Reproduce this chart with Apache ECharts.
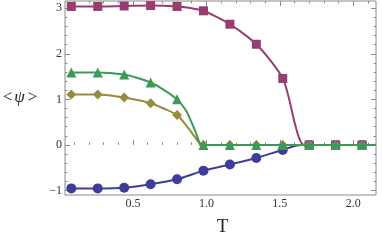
<!DOCTYPE html>
<html><head><meta charset="utf-8">
<script src="https://cdn.jsdelivr.net/npm/echarts@6/dist/echarts.min.js"></script>
<style>html,body{margin:0;padding:0;background:#fff;}#c{width:382px;height:241px;}</style>
</head><body><div id="c"></div>
<script>
// ---- data ----
const T = [0.08, 0.26, 0.44, 0.62, 0.80, 0.98, 1.16, 1.34, 1.52, 1.70, 1.88, 2.06];
const blueVals    = [-0.955, -0.955, -0.94, -0.865, -0.755, -0.565, -0.43, -0.286, -0.11, 0, 0, 0];
const magentaVals = [3.04, 3.04, 3.05, 3.06, 3.04, 2.945, 2.65, 2.21, 1.46, 0, 0, 0];
const oliveVals   = [1.105, 1.105, 1.04, 0.915, 0.655, 0, 0, 0, 0, 0, 0, 0];
const greenVals   = [1.59, 1.59, 1.545, 1.37, 1.0, 0, 0, 0, 0, 0, 0, 0];
// extra points read on the smooth curves between the markers
const blueCurveT = [1.645];
const blueCurveV = [0];
const magentaCurveT = [0.89, 1.07, 1.25, 1.43, 1.56, 1.6, 1.635, 1.665];
const magentaCurveV = [3.005, 2.81, 2.45, 1.88, 1.05, 0.5, 0.12, 0];
const oliveCurveT = [0.53, 0.71, 0.86, 0.92, 0.97];
const oliveCurveV = [0.985, 0.80, 0.44, 0.18, 0];
const greenCurveT = [0.53, 0.71, 0.86, 0.92, 0.967];
const greenCurveV = [1.47, 1.21, 0.76, 0.34, 0];
const curveEndT = 2.155;
const xTickLabels = ['0.5', '1.0', '1.5', '2.0'];
const yTickLabels = ['−1', '0', '1', '2', '3'];

// ---- layout ----
const W = 382, H = 241;
const XMIN = 0.037, XMAX = 2.155, YMIN = -1.1, YMAX = 3.16;
const GL = 65, GT = 1, GR = 6, GB = 46;
const plotW = W - GL - GR, plotH = H - GT - GB;
const kx = plotW / (XMAX - XMIN), ky = plotH / (YMAX - YMIN);
const FRAME = '#8a8a8a', LABEL = '#333';
const FONT = '"Liberation Serif", "DejaVu Serif", serif';

function xGrid(a, b) { return { left: GL + (a - XMIN) * kx, right: W - (GL + (b - XMIN) * kx), top: GT, bottom: GB }; }
function yGrid(c, d) { return { left: GL, right: GR, top: GT + (YMAX - d) * ky, bottom: H - (GT + (YMAX - c) * ky) }; }

function pairs(xs, ys) { return xs.map((x, i) => [x, ys[i]]); }
function curve(vals, ct, cv) {
  const pts = pairs(T, vals).concat(pairs(ct, cv));
  pts.push([curveEndT, 0]);
  pts.sort((p, q) => p[0] - q[0]);
  return pts;
}

const series = [
  { name: 'blue', color: '#3f3d99', vals: blueVals, ct: blueCurveT, cv: blueCurveV, sym: 'circle', size: 10 },
  { name: 'magenta', color: '#993d71', vals: magentaVals, ct: magentaCurveT, cv: magentaCurveV, sym: 'rect', size: 9 },
  { name: 'olive', color: '#998b3d', vals: oliveVals, ct: oliveCurveT, cv: oliveCurveV, sym: 'diamond', size: 10 },
  { name: 'green', color: '#3d9956', vals: greenVals, ct: greenCurveT, cv: greenCurveV, sym: 'triangle', size: 10 }
];

const seriesOpts = [];
series.forEach((s, i) => {
  seriesOpts.push({
    type: 'line', xAxisIndex: 0, yAxisIndex: 0, data: curve(s.vals, s.ct, s.cv),
    smooth: 0.3, showSymbol: false, symbol: 'none',
    lineStyle: { color: s.color, width: 2 }, z: 2 + i * 2, animation: false, silent: true
  });
  seriesOpts.push({
    type: 'scatter', xAxisIndex: 0, yAxisIndex: 0, data: pairs(T, s.vals),
    symbol: s.sym, symbolSize: s.size, itemStyle: { color: s.color, opacity: 1 },
    z: 3 + i * 2, animation: false, silent: true
  });
});

function tickAxis(grid, pos, mn, mx, iv, len, labels) {
  return {
    type: 'value', gridIndex: grid, position: pos, min: mn, max: mx, interval: iv,
    axisLine: { show: false }, splitLine: { show: false },
    axisTick: { show: true, inside: true, length: len, lineStyle: { color: FRAME, width: 1 } },
    axisLabel: labels ? {
      show: true, color: LABEL, fontFamily: FONT, fontSize: 12, margin: 3,
      formatter: labels
    } : { show: false }
  };
}
const hidden = (grid, mn, mx) => ({ type: 'value', gridIndex: grid, min: mn, max: mx, show: false });

const xLabelFmt = v => { const i = Math.round((v - 0.5) / 0.5); return xTickLabels[i] !== undefined ? xTickLabels[i] : ''; };
const yLabelFmt = v => { const i = Math.round(v + 1); return yTickLabels[i] !== undefined ? yTickLabels[i] : ''; };

const option = {
  animation: false,
  backgroundColor: '#fff',
  grid: [
    { left: GL, right: GR, top: GT, bottom: GB, show: true, borderColor: FRAME, borderWidth: 1, backgroundColor: 'transparent' },
    xGrid(0.5, 2.0),
    xGrid(0.1, 2.1),
    yGrid(-1, 3),
    yGrid(-1, 3)
  ],
  xAxis: [
    { type: 'value', gridIndex: 0, min: XMIN, max: XMAX, show: false },
    tickAxis(1, 'bottom', 0.5, 2.0, 0.5, 5, xLabelFmt),
    tickAxis(1, 'top', 0.5, 2.0, 0.5, 5, null),
    tickAxis(2, 'bottom', 0.1, 2.1, 0.1, 2.5, null),
    tickAxis(2, 'top', 0.1, 2.1, 0.1, 2.5, null),
    hidden(3, XMIN, XMAX),
    hidden(4, XMIN, XMAX)
  ],
  yAxis: [
    { type: 'value', gridIndex: 0, min: YMIN, max: YMAX, show: false },
    hidden(1, YMIN, YMAX),
    hidden(2, YMIN, YMAX),
    tickAxis(3, 'left', -1, 3, 1, 5, yLabelFmt),
    tickAxis(3, 'right', -1, 3, 1, 5, null),
    tickAxis(4, 'left', -1, 3, 0.2, 2.5, null),
    tickAxis(4, 'right', -1, 3, 0.2, 2.5, null)
  ],
  graphic: [
    { type: 'text', z: 100, style: { x: GL + plotW / 2 + 2, y: 227, text: 'T', fill: '#222', fontFamily: FONT, fontSize: 19, align: 'center', verticalAlign: 'middle' } },
    { type: 'text', z: 100, style: { x: 20, y: 98, text: '{a|<}{b|ψ}{a|>}', fill: '#222', align: 'center', verticalAlign: 'middle',
      rich: { a: { fontFamily: FONT, fontSize: 17, fill: '#222' }, b: { fontFamily: FONT, fontSize: 17, fontStyle: 'italic', fill: '#222', padding: [0, 3, 0, 2] } } } }
  ],
  series: seriesOpts
};
const chart = echarts.init(document.getElementById('c'), null, { renderer: 'canvas' });
chart.setOption(option);
</script></body></html>
